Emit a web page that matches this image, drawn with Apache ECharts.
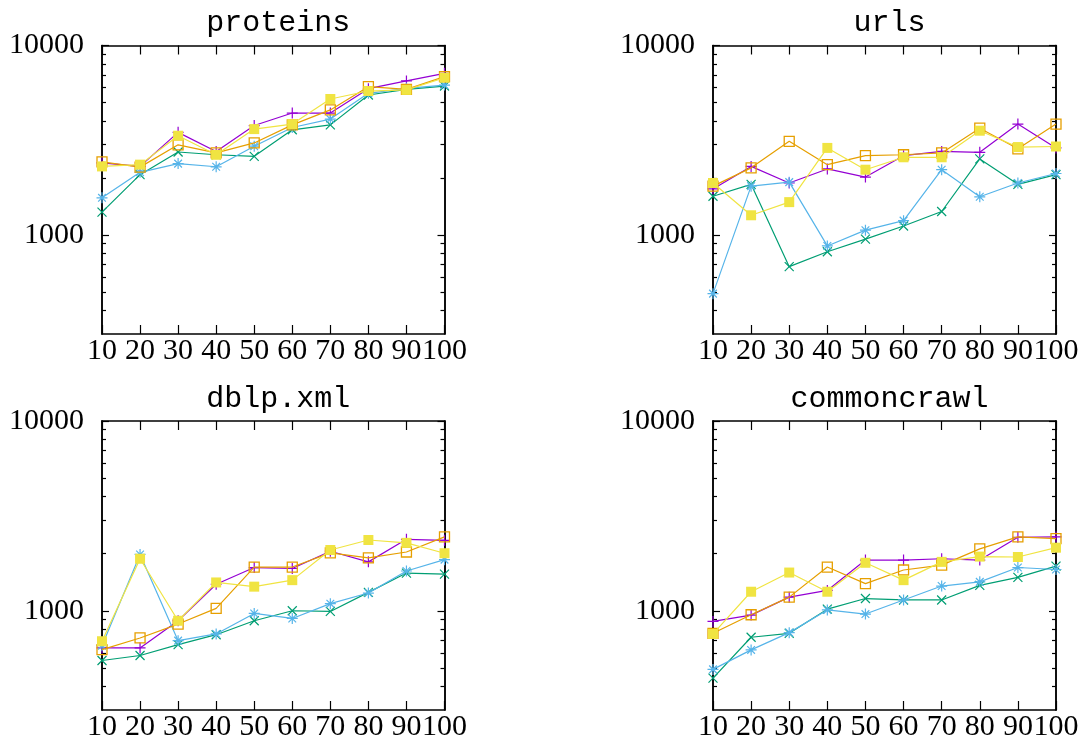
<!DOCTYPE html>
<html>
<head>
<meta charset="utf-8">
<script src="https://cdn.jsdelivr.net/npm/echarts@6/dist/echarts.min.js"></script>
<style>
html,body{margin:0;padding:0;background:#fff;}
#chart{width:1084px;height:743px;}
</style>
</head>
<body>
<div id="chart"></div>
<script>
// ---- data ----
const xValues = [10, 20, 30, 40, 50, 60, 70, 80, 90, 100];
const panelTitles = ['proteins', 'urls', 'dblp.xml', 'commoncrawl'];
const yMajorTicks = [1000, 10000];
const yMinorTicks = [400, 500, 600, 700, 800, 900, 2000, 3000, 4000, 5000, 6000, 7000, 8000, 9000];

// proteins
const proteinsPurple = [2400, 2300, 3480, 2760, 3780, 4400, 4400, 5920, 6500, 7130];
const proteinsGreen  = [1320, 2080, 2740, 2650, 2600, 3590, 3810, 5480, 5870, 6110];
const proteinsBlue   = [1570, 2140, 2380, 2290, 2940, 3690, 4090, 5590, 5940, 6180];
const proteinsOrange = [2430, 2280, 2990, 2710, 3060, 3810, 4570, 6060, 5870, 6850];
const proteinsYellow = [2300, 2350, 3340, 2650, 3620, 3850, 5220, 5750, 5830, 6760];
// urls
const urlsPurple = [1750, 2300, 1880, 2230, 2020, 2620, 2760, 2730, 3850, 2880];
const urlsGreen  = [1600, 1850, 680, 815, 950, 1115, 1330, 2520, 1850, 2080];
const urlsBlue   = [490, 1810, 1900, 875, 1060, 1190, 2210, 1590, 1880, 2110];
const urlsOrange = [1810, 2260, 3120, 2350, 2620, 2650, 2710, 3660, 2850, 3850];
const urlsYellow = [1880, 1270, 1490, 2880, 2210, 2570, 2570, 3550, 2910, 2930];
// dblp.xml
const dblpPurple = [637, 637, 886, 1380, 1690, 1670, 2060, 1810, 2380, 2350];
const dblpGreen  = [547, 581, 663, 748, 886, 1000, 992, 1250, 1580, 1560];
const dblpBlue   = [655, 1980, 696, 755, 968, 911, 1090, 1240, 1620, 1860];
const dblpOrange = [624, 719, 851, 1030, 1700, 1700, 2020, 1900, 2040, 2450];
const dblpYellow = [691, 1880, 886, 1410, 1340, 1450, 2090, 2360, 2280, 2010];
// commoncrawl
const ccPurple = [879, 949, 1180, 1280, 1850, 1850, 1880, 1850, 2440, 2450];
const ccGreen  = [442, 725, 761, 1020, 1160, 1140, 1140, 1360, 1500, 1720];
const ccBlue   = [491, 622, 767, 1010, 961, 1140, 1350, 1420, 1690, 1650];
const ccOrange = [761, 953, 1180, 1700, 1390, 1640, 1740, 2120, 2450, 2400];
const ccYellow = [755, 1260, 1590, 1260, 1790, 1450, 1810, 1930, 1920, 2150];

const panelData = [
  [proteinsPurple, proteinsGreen, proteinsBlue, proteinsOrange, proteinsYellow],
  [urlsPurple, urlsGreen, urlsBlue, urlsOrange, urlsYellow],
  [dblpPurple, dblpGreen, dblpBlue, dblpOrange, dblpYellow],
  [ccPurple, ccGreen, ccBlue, ccOrange, ccYellow]
];

// ---- styling ----
const colors = ['#9400d3', '#009e73', '#56b4e9', '#e69f00', '#f0e442'];
const PLUS = 'path://M0,5L10,5M5,0L5,10';
const CROSS = 'path://M0,0L10,10M0,10L10,0';
const STAR = 'path://M0,5L10,5M5,0L5,10M1.5,1.5L8.5,8.5M1.5,8.5L8.5,1.5';
const symbolDefs = [
  {symbol: PLUS, size: 11, fill: null},
  {symbol: CROSS, size: 9, fill: null},
  {symbol: STAR, size: 11, fill: null},
  {symbol: 'rect', size: 10, fill: 'rgba(255,255,255,0)'},
  {symbol: 'rect', size: 10, fill: 'solid'}
];

const grids = [
  {left: 102, top: 45.5, width: 342.5, height: 288.5},
  {left: 713, top: 45.5, width: 343, height: 288.5},
  {left: 102, top: 421, width: 342.5, height: 289},
  {left: 713, top: 421, width: 343, height: 289}
];

const axisLineStyle = {show: true, lineStyle: {color: '#000', width: 1.5}};
const labelFont = {fontFamily: 'Liberation Serif', fontSize: 30, color: '#000'};

const option = {
  backgroundColor: '#fff',
  animation: false,
  title: [],
  grid: [],
  xAxis: [],
  yAxis: [],
  series: []
};

grids.forEach((g, p) => {
  option.grid.push(Object.assign({containLabel: false}, g));
  option.title.push({
    text: panelTitles[p],
    left: g.left + g.width / 2,
    top: g.top - 42,
    textAlign: 'center',
    textStyle: {fontFamily: 'Liberation Mono', fontSize: 30, fontWeight: 'normal', color: '#000'}
  });
  const xi = option.xAxis.length;
  const baseX = {
    type: 'value', gridIndex: p, min: 10, max: 100, interval: 10,
    axisLine: axisLineStyle, splitLine: {show: false}
  };
  option.xAxis.push(Object.assign({}, baseX, {
    position: 'bottom',
    axisTick: {show: true, inside: true, length: 9, lineStyle: {color: '#000', width: 1.2}},
    axisLabel: Object.assign({show: true, margin: 2, formatter: v => String(v)}, labelFont)
  }));
  option.xAxis.push(Object.assign({}, baseX, {
    position: 'top',
    axisTick: {show: true, inside: true, length: 9, lineStyle: {color: '#000', width: 1.2}},
    axisLabel: {show: false}
  }));
  const yi = option.yAxis.length;
  const baseY = {
    type: 'log', logBase: 10, gridIndex: p, min: 300, max: 10000,
    axisLine: axisLineStyle, splitLine: {show: false}, minorTick: {show: false}
  };
  option.yAxis.push(Object.assign({}, baseY, {
    position: 'left',
    axisTick: {show: true, inside: true, length: 7, customValues: yMajorTicks, lineStyle: {color: '#000', width: 1.2}},
    axisLabel: Object.assign({show: true, margin: 18, customValues: yMajorTicks, formatter: v => String(Math.round(v))}, labelFont)
  }));
  option.yAxis.push(Object.assign({}, baseY, {
    position: 'left',
    axisTick: {show: true, inside: true, length: 4, customValues: yMinorTicks, lineStyle: {color: '#000', width: 1.2}},
    axisLabel: {show: false}
  }));
  option.yAxis.push(Object.assign({}, baseY, {
    position: 'right',
    axisTick: {show: true, inside: true, length: 7, customValues: yMajorTicks, lineStyle: {color: '#000', width: 1.2}},
    axisLabel: {show: false}
  }));
  option.yAxis.push(Object.assign({}, baseY, {
    position: 'right',
    axisTick: {show: true, inside: true, length: 4, customValues: yMinorTicks, lineStyle: {color: '#000', width: 1.2}},
    axisLabel: {show: false}
  }));

  panelData[p].forEach((vals, s) => {
    const sd = symbolDefs[s];
    const c = colors[s];
    let itemStyle;
    if (sd.fill === null) {
      itemStyle = {color: c, borderColor: c, borderWidth: 1.2};
    } else if (sd.fill === 'solid') {
      itemStyle = {color: c, borderWidth: 0};
    } else {
      itemStyle = {color: sd.fill, borderColor: c, borderWidth: 1.3};
    }
    option.series.push({
      type: 'line',
      xAxisIndex: xi,
      yAxisIndex: yi,
      data: xValues.map((x, i) => [x, vals[i]]),
      symbol: sd.symbol,
      symbolSize: sd.size,
      showSymbol: true,
      showAllSymbol: true,
      clip: false,
      lineStyle: {color: c, width: 1.2},
      itemStyle: itemStyle,
      emphasis: {disabled: true},
      silent: true,
      z: 2 + s
    });
  });
});

const chart = echarts.init(document.getElementById('chart'), null, {renderer: 'canvas'});
chart.setOption(option);
</script>
</body>
</html>
